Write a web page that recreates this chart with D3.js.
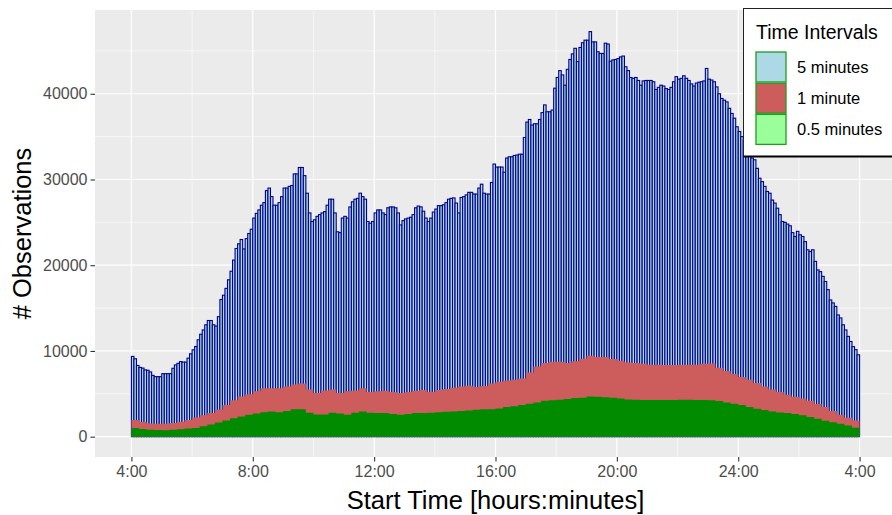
<!DOCTYPE html>
<html>
<head>
<meta charset="utf-8">
<script src="https://cdn.jsdelivr.net/npm/d3@7"></script>
<style>
  body { margin: 0; background: #fff; }
  text { font-family: "Liberation Sans", Arial, sans-serif; }
</style>
</head>
<body>
<svg id="chart"></svg>
<script>
// counts per 5-minute bin, starting 4:00 (288 bins = 24 h)
var fiveMin = [
  9360, 9090, 8310, 8080, 8000, 7790, 7750, 7550, 7150, 7000, 7000, 7000,
  7350, 7350, 7350, 7350, 7980, 8370, 8550, 8760, 8700, 8700, 9160, 9670,
  10130, 10520, 11300, 11950, 12450, 13050, 13550, 13550, 13050, 12900, 14000, 16000,
  16500, 17300, 18300, 19300, 20600, 21950, 22500, 23000, 21900, 23100, 23700, 24200,
  25500, 26050, 26450, 27000, 27300, 28700, 29000, 28000, 27000, 27000, 27300, 28000,
  29000, 29000, 29200, 29300, 30650, 30650, 31400, 31400, 30450, 28400, 26100, 25100,
  25300, 25700, 25900, 26100, 26250, 27000, 27700, 27700, 26100, 23900, 23800, 25500,
  25700, 25500, 26800, 27400, 27700, 27800, 28400, 28000, 27700, 25100, 24900, 25100,
  26100, 26450, 26450, 26100, 25900, 26700, 26800, 26800, 26700, 26100, 24700, 25200,
  25400, 25500, 25600, 25900, 26700, 26900, 26800, 26300, 25500, 25100, 25500, 26200,
  26550, 26950, 26950, 27050, 27300, 27700, 27800, 27850, 27250, 26100, 27900, 28000,
  28200, 28500, 28500, 28300, 28300, 29000, 29450, 28400, 28300, 28300, 29650, 31800,
  31450, 31450, 31450, 30850, 32500, 32650, 32650, 32800, 32850, 32950, 32950, 34900,
  36700, 37000, 36350, 36500, 36500, 37000, 37800, 38700, 37900, 37900, 38100, 40650,
  41900, 42700, 42200, 41000, 42850, 44000, 44650, 45300, 43750, 45400, 45950, 46250,
  46250, 47250, 46050, 46050, 44900, 44700, 44700, 45900, 45800, 43800, 43950, 44000,
  44100, 44300, 44400, 43150, 42700, 41900, 41800, 41900, 41550, 41000, 41500, 41550,
  41550, 41550, 41400, 40500, 40750, 41000, 40900, 40600, 40500, 40750, 41400, 42000,
  41700, 41800, 42100, 41800, 41550, 41150, 40900, 41250, 41350, 41400, 41500, 42950,
  41700, 41600, 41400, 40800, 40000, 39450, 39250, 39050, 38300, 37700, 37150, 36150,
  35600, 35000, 34600, 33850, 32850, 32500, 32300, 31300, 30150, 29750, 29200, 28600,
  28400, 27600, 27250, 26650, 25900, 25100, 25000, 24800, 24600, 23800, 23350, 23950,
  23550, 23350, 22750, 21800, 21600, 21800, 20450, 19450, 19250, 18700, 18100, 17150,
  15950, 15600, 15200, 14200, 13850, 13050, 12450, 11700, 11100, 10500, 10150, 9550
];

// counts per 1-minute bin, read every 15 minutes from 4:00
var oneMin = [
  1950, 1750, 1550, 1500, 1500, 1600, 1750, 1950, 2250, 2500, 2750, 3150,
  3700, 4250, 4700, 4950, 5300, 5650, 5650, 5650, 5850, 6100, 6200, 5500,
  5100, 5400, 5500, 5100, 5300, 5400, 5650, 5200, 5300, 5350, 5200, 5100,
  5200, 5350, 5450, 5200, 5450, 5550, 5700, 5850, 5950, 5800, 5900, 6200,
  6400, 6550, 6650, 6800, 7500, 8200, 8600, 8750, 8750, 8600, 8800, 9100,
  9450, 9300, 9300, 9050, 8850, 8650, 8600, 8500, 8400, 8400, 8350, 8350,
  8400, 8400, 8400, 8500, 8550, 8050, 7650, 7300, 6950, 6650, 6250, 5850,
  5500, 5200, 4900, 4650, 4450, 4200, 3800, 3450, 3000, 2550, 2200, 1900
];

// counts per 0.5-minute bin, read every 15 minutes from 4:00
var halfMin = [
  1000, 900, 820, 780, 740, 800, 880, 950, 1020, 1230, 1420, 1650,
  1900, 2150, 2350, 2550, 2700, 2850, 2950, 2850, 3000, 3200, 3200, 2800,
  2600, 2600, 2800, 2700, 2550, 2800, 2950, 2800, 2750, 2750, 2650, 2550,
  2650, 2750, 2750, 2800, 2850, 2900, 2950, 3000, 3050, 3150, 3200, 3200,
  3300, 3450, 3550, 3700, 3850, 4000, 4200, 4250, 4300, 4400, 4500, 4550,
  4700, 4650, 4600, 4550, 4450, 4350, 4300, 4270, 4270, 4270, 4270, 4270,
  4300, 4300, 4280, 4270, 4250, 4150, 4000, 3850, 3700, 3450, 3250, 3100,
  2950, 2830, 2750, 2650, 2500, 2300, 2100, 1850, 1670, 1500, 1300, 1050
];

var startHour = 4;
var tickHours = [4, 8, 12, 16, 20, 24, 28];
var tickLabels = ["4:00", "8:00", "12:00", "16:00", "20:00", "24:00", "4:00"];
var yTicks = [0, 10000, 20000, 30000, 40000];
var legendNames = ["5 minutes", "1 minute", "0.5 minutes"];
var legendFills = ["#ADD8E6", "#CD5C5C", "#9AFF9A"];

var width = 892, height = 515;
var svg = d3.select("#chart").attr("width", width).attr("height", height);

var panel = { left: 95, right: 896, top: 10, bottom: 457 };

var x = d3.scaleLinear().domain([2.8, 29.2]).range([panel.left, panel.right]);
var y = d3.scaleLinear().domain([-2370, 49770]).range([panel.bottom, panel.top]);

// panel background + grid
svg.append("rect")
  .attr("x", panel.left).attr("y", panel.top)
  .attr("width", panel.right - panel.left).attr("height", panel.bottom - panel.top)
  .attr("fill", "#EBEBEB");

var grid = svg.append("g");
[6, 10, 14, 18, 22, 26].forEach(function (h) {
  grid.append("line").attr("x1", x(h)).attr("x2", x(h))
    .attr("y1", panel.top).attr("y2", panel.bottom)
    .attr("stroke", "#fff").attr("stroke-width", 0.6);
});
[5000, 15000, 25000, 35000, 45000].forEach(function (v) {
  grid.append("line").attr("x1", panel.left).attr("x2", panel.right)
    .attr("y1", y(v)).attr("y2", y(v))
    .attr("stroke", "#fff").attr("stroke-width", 0.6);
});
tickHours.forEach(function (h) {
  grid.append("line").attr("x1", x(h)).attr("x2", x(h))
    .attr("y1", panel.top).attr("y2", panel.bottom)
    .attr("stroke", "#fff").attr("stroke-width", 1.2);
});
yTicks.forEach(function (v) {
  grid.append("line").attr("x1", panel.left).attr("x2", panel.right)
    .attr("y1", y(v)).attr("y2", y(v))
    .attr("stroke", "#fff").attr("stroke-width", 1.2);
});

// 5 minute histogram bars
var binW = 5 / 60;
svg.append("g")
  .selectAll("rect")
  .data(fiveMin)
  .enter().append("rect")
    .attr("x", function (d, i) { return x(startHour + i * binW) })
    .attr("width", function (d, i) { return x(startHour + (i + 1) * binW) - x(startHour + i * binW) })
    .attr("y", function (d) { return y(d) })
    .attr("height", function (d) { return y(0) - y(d) })
    .attr("fill", "#ADD8E6")
    .attr("stroke", "#00008B")
    .attr("stroke-width", 1.1);

// 1 minute and 0.5 minute counts as filled steps
function stepPoints(values) {
  var step = 0.25;
  var pts = values.map(function (v, i) { return [startHour + i * step, v] });
  pts.push([startHour + values.length * step, values[values.length - 1]]);
  return pts;
}
var area = d3.area()
  .x(function (d) { return x(d[0]) })
  .y0(y(0))
  .y1(function (d) { return y(d[1]) })
  .curve(d3.curveStepAfter);

svg.append("path").datum(stepPoints(oneMin))
  .attr("d", area).attr("fill", "#CD5C5C");
svg.append("path").datum(stepPoints(halfMin))
  .attr("d", area).attr("fill", "#008B00");

// axes
var xAxis = d3.axisBottom(x)
  .tickValues(tickHours)
  .tickFormat(function (d, i) { return tickLabels[i] })
  .tickSize(4.5).tickPadding(4);
var gx = svg.append("g").attr("transform", "translate(0," + panel.bottom + ")").call(xAxis);
gx.select(".domain").remove();
gx.selectAll("line").attr("stroke", "#333").attr("stroke-width", 1.1);
gx.selectAll("text").attr("fill", "#4D4D4D").attr("font-size", 16)
  .attr("font-family", "Liberation Sans, Arial, sans-serif");

var yAxis = d3.axisLeft(y).tickValues(yTicks).tickFormat(d3.format("d"))
  .tickSize(4.5).tickPadding(3);
var gy = svg.append("g").attr("transform", "translate(" + panel.left + ",0)").call(yAxis);
gy.select(".domain").remove();
gy.selectAll("line").attr("stroke", "#333").attr("stroke-width", 1.1);
gy.selectAll("text").attr("fill", "#4D4D4D").attr("font-size", 16)
  .attr("font-family", "Liberation Sans, Arial, sans-serif");

svg.append("text")
  .attr("x", (panel.left + panel.right) / 2).attr("y", 509)
  .attr("text-anchor", "middle").attr("font-size", 25.5).attr("fill", "#000")
  .text("Start Time [hours:minutes]");

svg.append("text")
  .attr("transform", "translate(31," + ((panel.top + panel.bottom) / 2) + ") rotate(-90)")
  .attr("text-anchor", "middle").attr("font-size", 25.5).attr("fill", "#000")
  .text("# Observations");

// legend
var legend = svg.append("g");
legend.append("rect")
  .attr("x", 743.5).attr("y", 8.5).attr("width", 170).attr("height", 148)
  .attr("fill", "#fff").attr("stroke", "#222").attr("stroke-width", 1);
legend.append("line")
  .attr("x1", 743.5).attr("x2", 900).attr("y1", 156.5).attr("y2", 156.5)
  .attr("stroke", "#000").attr("stroke-width", 2);
legend.append("text")
  .attr("x", 756).attr("y", 39).attr("font-size", 19.5).attr("fill", "#000")
  .text("Time Intervals");
legendNames.forEach(function (name, i) {
  legend.append("rect")
    .attr("x", 756).attr("y", 52 + i * 31.2).attr("width", 30).attr("height", 30)
    .attr("fill", legendFills[i]).attr("stroke", "#1E9E1E").attr("stroke-width", 1.3);
  legend.append("text")
    .attr("x", 797).attr("y", 67 + i * 31.2).attr("dy", "0.35em")
    .attr("font-size", 16.5).attr("fill", "#000")
    .text(name);
});
</script>
</body>
</html>
